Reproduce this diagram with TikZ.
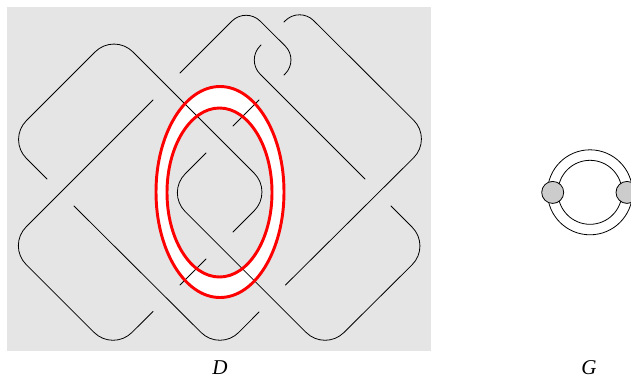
\documentclass[tikz,border=0pt]{standalone}
\usepackage{fontspec}
\setmainfont{Liberation Serif}
\definecolor{diagBg}{HTML}{E5E5E5}
\definecolor{vertexG}{HTML}{CCCCCC}
\definecolor{ringR}{HTML}{FF0000}
\tikzset{
  strand/.style={black, line width=0.6pt, line cap=round},
  bigTurn/.style={strand, rounded corners=20pt},
  smallTurn/.style={strand, rounded corners=15pt},
  ring/.style={ringR, line width=2.2pt},
  vertex/.style={circle, draw=black, fill=vertexG, line width=0.6pt, minimum size=16.5pt, inner sep=0pt},
  caption/.style={inner sep=0pt, anchor=base}
}
\begin{document}
\begin{tikzpicture}[x=0.75pt, y=-0.75pt, font=\fontsize{15.8pt}{17pt}\selectfont\itshape]
  \path[use as bounding box, clip] (0,0) rectangle (631,376);
  \fill[diagBg] (7,7) rectangle (431,351);

  % annulus between the two curves
  \fill[white] (220,192) ellipse [x radius=64, y radius=105.5];
  \fill[diagBg] (219.5,192.5) ellipse [x radius=52.5, y radius=84.5];

  % arcs of D
  \draw[bigTurn] (47,179) -- (7.5,139.5) -- (114,33) -- (273,192) -- (233,232);
  \draw[smallTurn] (180,73) -- (246,7) -- (299.3,60) -- (284,75);
  \draw[smallTurn] (284,22) -- (299.5,6.5) [rounded corners=20pt] -- (432.5,139) -- (285.5,285);
  \draw[smallTurn] (261,45) -- (246,60) -- (365,179);
  \draw[bigTurn] (153,100) -- (7.3,245.7) -- (113,351.3) -- (153,311.5);
  \draw[bigTurn] (74,206) -- (220,351.3) -- (259,312);
  \draw[bigTurn] (206,153) -- (166.3,192.7) -- (325,351.3) -- (431,246) -- (391,206);
  \foreach \xa/\ya/\xb/\yb in {
    180/285/206/259,
    233/126/259/100}{
    \draw[strand] (\xa,\ya) -- (\xb,\yb);
  }

  \draw[ring] (220,192) ellipse [x radius=64, y radius=105.5];
  \draw[ring] (219.5,192.5) ellipse [x radius=52.5, y radius=84.5];

  % graph G
  \draw[strand] (590,192.3) circle [radius=42.5];
  \draw[strand] (590,192.3) circle [radius=32];
  \node[vertex] (vertexL) at (552.7,192.4) {};
  \node[vertex] (vertexR) at (627,192.4) {};

  \node[caption] (labelD) at (220,374) {D};
  \node[caption] (labelG) at (589,374) {G};
\end{tikzpicture}
\end{document}
